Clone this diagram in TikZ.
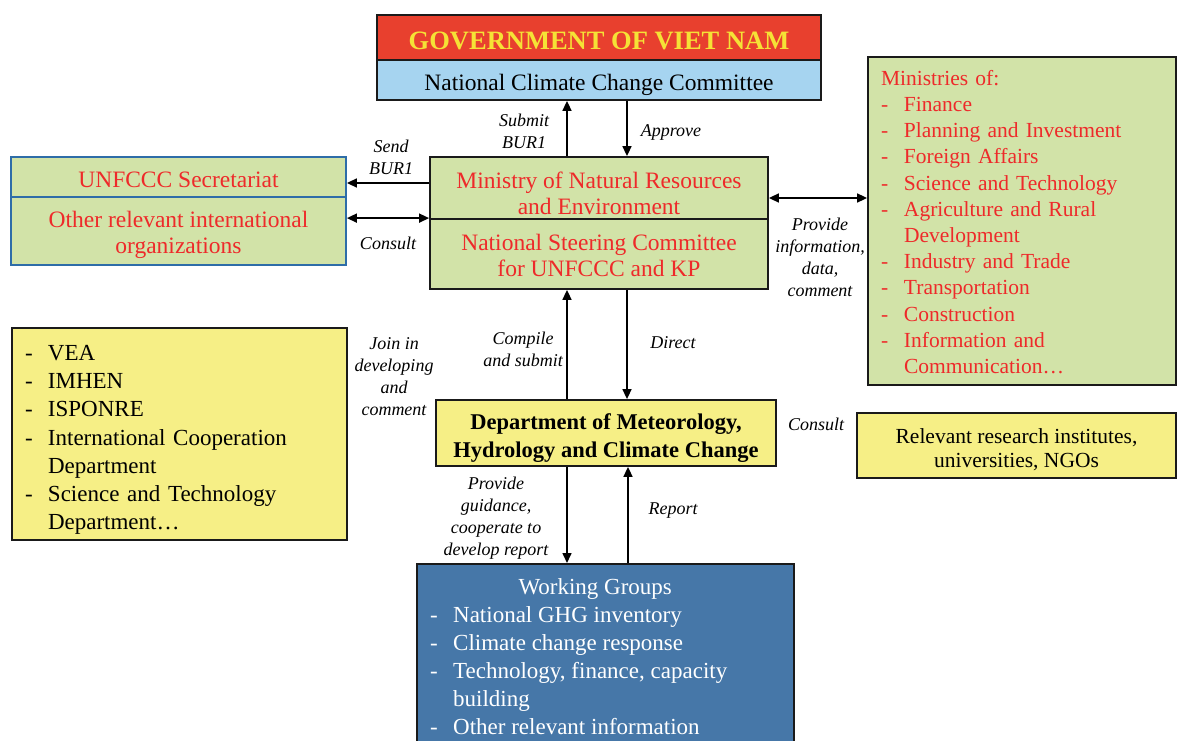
\documentclass[tikz,border=0pt]{standalone}
\usepackage{fontspec}
\setmainfont{Liberation Serif}
\usetikzlibrary{arrows.meta}

\definecolor{govred}{HTML}{E8402E}
\definecolor{govyellow}{HTML}{F5E236}
\definecolor{ncccblue}{HTML}{A6D4F0}
\definecolor{boxgreen}{HTML}{D2E3A8}
\definecolor{txtred}{HTML}{EE2A2A}
\definecolor{boxyellow}{HTML}{F6EF86}
\definecolor{wgblue}{HTML}{4677A8}
\definecolor{unfblue}{HTML}{2E6DA8}
\definecolor{edge}{HTML}{1A1A1A}

\newcommand{\li}{\makebox[23pt][l]{-}}
\newcommand{\lind}{\hspace*{23pt}}

\tikzset{
  box/.style={draw=edge, line width=1.8pt, inner sep=0pt},
  gbox/.style={box, fill=boxgreen},
  ybox/.style={box, fill=boxyellow},
  txt/.style={inner sep=0pt, align=center},
  rtxt/.style={txt, text=txtred, font=\fontsize{23.5}{26}\selectfont},
  lbl/.style={font=\itshape\fontsize{18}{22}\selectfont, align=center, inner sep=0pt},
  arr/.style={line width=1.6pt, draw=black, -{Triangle[length=10pt,width=9pt]}},
  dbl/.style={line width=1.6pt, draw=black, {Triangle[length=10pt,width=9pt]}-{Triangle[length=10pt,width=9pt]}},
}

\begin{document}
\begin{tikzpicture}[x=1pt,y=-1pt]
\clip (0,0) rectangle (1178,741);
\fill[white] (0,0) rectangle (1178,741);

% Government of Viet Nam and the National Climate Change Committee
\node[box, fill=govred, minimum width=444pt, minimum height=45pt] (gov) at (599,37.5) {};
\node[txt, text=govyellow, font=\bfseries\fontsize{26.5}{30}\selectfont] (gov-t) at (599,40.5)
  {GOVERNMENT OF VIET NAM};
\node[box, fill=ncccblue, minimum width=444pt, minimum height=40pt] (ncc) at (599,80) {};
\node[txt, font=\fontsize{23.5}{26}\selectfont] (ncc-t) at (599,85) {National Climate Change Committee};

% Ministry of Natural Resources and Environment / Steering Committee
\node[gbox, minimum width=338pt, minimum height=62pt] (monre) at (599,188) {};
\node[rtxt] (monre-t) at (599,193) {Ministry of Natural Resources\\and Environment};
\node[gbox, minimum width=338pt, minimum height=70pt] (nsc) at (599,254) {};
\node[rtxt] (nsc-t) at (599,255) {National Steering Committee\\for UNFCCC and KP};

% International bodies
\node[gbox, draw=unfblue, minimum width=335pt, minimum height=40pt] (unf) at (178.5,177) {};
\node[rtxt] (unf-t) at (178.5,180) {UNFCCC Secretariat};
\node[gbox, draw=unfblue, minimum width=335pt, minimum height=68pt] (oth) at (178.5,231) {};
\node[rtxt] (oth-t) at (178.5,235) {Other relevant international\\organizations};

% Line ministries
\node[gbox, minimum width=308pt, minimum height=328pt] (min) at (1022,221) {};
\node[txt, text=txtred, text width=282pt, align=left, font=\fontsize{21.5}{26.2}\selectfont]
  (min-t) at (1022,222)
  {Ministries of:\\
   \li Finance\\
   \li Planning and Investment\\
   \li Foreign Affairs\\
   \li Science and Technology\\
   \li Agriculture and Rural\\
   \lind Development\\
   \li Industry and Trade\\
   \li Transportation\\
   \li Construction\\
   \li Information and\\
   \lind Communication…};

% Agencies under the ministry
\node[ybox, minimum width=335pt, minimum height=212pt] (agn) at (179.5,434) {};
\node[txt, text width=309pt, align=left, font=\fontsize{23}{28.2}\selectfont] (agn-t) at (179.5,440)
  {\li VEA\\
   \li IMHEN\\
   \li ISPONRE\\
   \li International Cooperation\\
   \lind Department\\
   \li Science and Technology\\
   \lind Department…};

% Department of Meteorology, Hydrology and Climate Change
\node[ybox, minimum width=340pt, minimum height=66pt] (dmh) at (606,433) {};
\node[txt, font=\bfseries\fontsize{22.5}{28}\selectfont] (dmh-t) at (606,438)
  {Department of Meteorology,\\Hydrology and Climate Change};

% Research institutes
\node[ybox, minimum width=319pt, minimum height=65pt] (res) at (1016.5,445.5) {};
\node[txt, font=\fontsize{21.5}{24}\selectfont] (res-t) at (1016.5,449.5)
  {Relevant research institutes,\\universities, NGOs};

% Working groups
\node[box, fill=wgblue, minimum width=377pt, minimum height=200pt, anchor=north] (wg) at (605.5,563) {};
\node[text=white, font=\fontsize{23}{28}\selectfont, align=left, anchor=north west, inner sep=0pt]
  (wg-t) at (430,578)
  {\makebox[330pt][c]{Working Groups}\\
   \li National GHG inventory\\
   \li Climate change response\\
   \li Technology, finance, capacity\\
   \lind building\\
   \li Other relevant information};

% Connectors
\draw[arr] ([xshift=-32pt]monre.north) -- ([xshift=-32pt]monre.north |- ncc.south);
\draw[arr] ([xshift=28pt]monre.north |- ncc.south) -- ([xshift=28pt]monre.north);
\draw[arr] ([yshift=5pt]monre.west) -- ([yshift=5pt]monre.west -| unf.east);
\draw[dbl] (nsc.north west -| oth.east) -- (nsc.north west);
\draw[dbl] ([yshift=-10pt]monre.east) -- ([yshift=-10pt]monre.east -| min.west);
\draw[arr] ([xshift=-32pt]nsc.south |- dmh.north) -- ([xshift=-32pt]nsc.south);
\draw[arr] ([xshift=28pt]nsc.south) -- ([xshift=28pt]nsc.south |- dmh.north);
\draw[arr] ([xshift=-39pt]dmh.south) -- ([xshift=-39pt]dmh.south |- wg.north);
\draw[arr] ([xshift=22pt]dmh.south |- wg.north) -- ([xshift=22pt]dmh.south);

% Connector labels
\node[lbl] (l1) at (524,131) {Submit\\BUR1};
\node[lbl] (l2) at (671,132) {Approve};
\node[lbl] (l3) at (391,157) {Send\\BUR1};
\node[lbl] (l4) at (388,243) {Consult};
\node[lbl] (l5) at (820,257) {Provide\\information,\\data,\\comment};
\node[lbl] (l6) at (394,377) {Join in\\developing\\and\\comment};
\node[lbl] (l7) at (523,349) {Compile\\and submit};
\node[lbl] (l8) at (673,343) {Direct};
\node[lbl] (l9) at (816,424) {Consult};
\node[lbl] (l10) at (496,518) {Provide\\guidance,\\cooperate to\\develop report};
\node[lbl] (l11) at (673,511) {Report};
\end{tikzpicture}
\end{document}
